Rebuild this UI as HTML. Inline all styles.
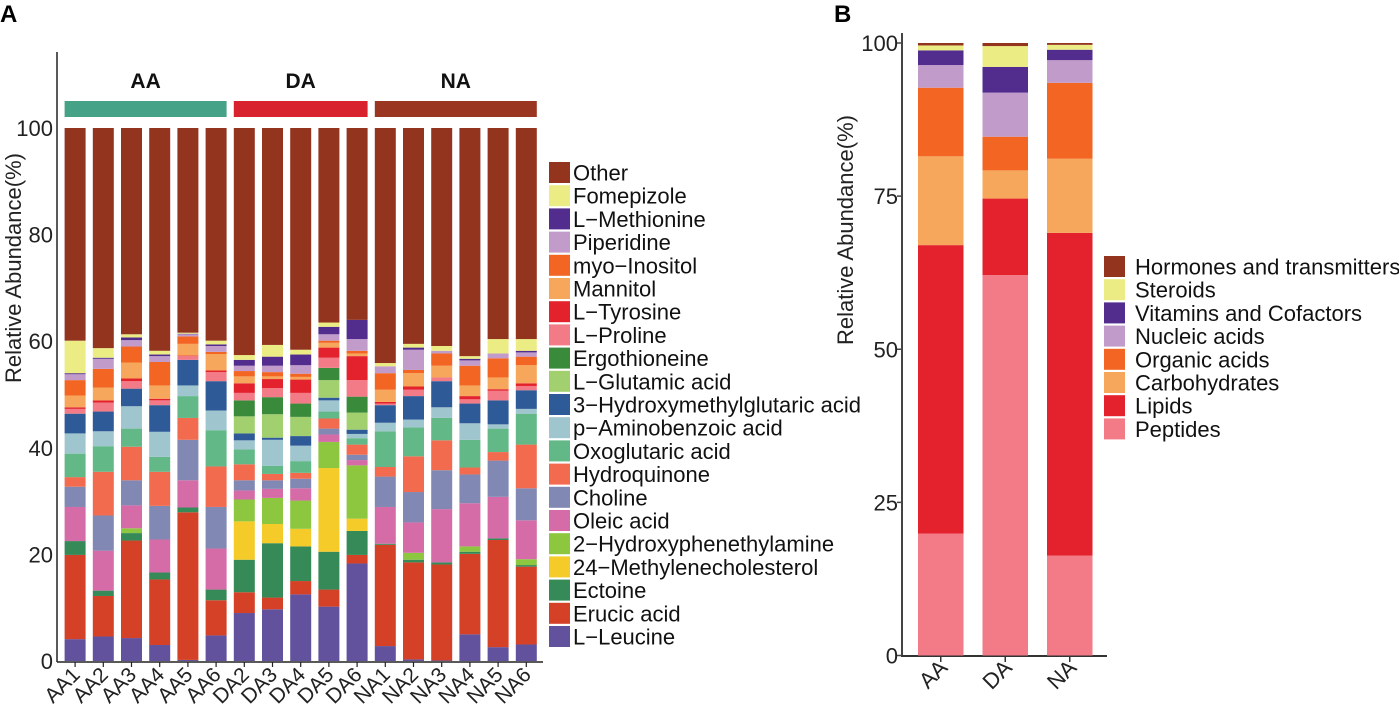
<!DOCTYPE html>
<html><head><meta charset="utf-8"><style>
html,body{margin:0;padding:0;background:#fff;}
svg{display:block;font-family:"Liberation Sans",Arial,sans-serif;}
</style></head><body>
<svg id="chart" width="1399" height="706" viewBox="0 0 1399 706" xmlns="http://www.w3.org/2000/svg">
<text x="0" y="22" font-size="24" font-weight="bold">A</text>
<text x="834" y="22" font-size="24" font-weight="bold">B</text>
<g id="ga"></g>
<g id="gb"></g>
</svg>
<script>
// ---------- Panel A data ----------
const samples = ["AA1","AA2","AA3","AA4","AA5","AA6","DA2","DA3","DA4","DA5","DA6","NA1","NA2","NA3","NA4","NA5","NA6"];
const groups = ["AA","DA","NA"];
const groupSizes = [6,5,6];
const compounds = ["L−Leucine","Erucic acid","Ectoine","24−Methylenecholesterol","2−Hydroxyphenethylamine","Oleic acid","Choline","Hydroquinone","Oxoglutaric acid","p−Aminobenzoic acid","3−Hydroxymethylglutaric acid","L−Glutamic acid","Ergothioneine","L−Proline","L−Tyrosine","Mannitol","myo−Inositol","Piperidine","L−Methionine","Fomepizole","Other"];
const leucine = [4.1,4.6,4.3,3.0,0.2,4.8,9.0,9.7,12.5,10.2,18.3,2.8,0.3,0.1,5.0,2.6,3.1];
const erucic = [15.8,7.6,18.3,12.3,27.7,6.6,3.9,2.2,2.5,3.2,1.6,19.0,18.2,18.0,15.1,20.1,14.6];
const ectoine = [2.6,1.0,1.4,1.3,0.9,2.0,6.1,10.2,6.5,7.1,4.5,0.2,0.5,0.4,0.4,0.3,0.3];
const methylchol = [0,0,0,0,0,0,7.2,3.6,3.3,15.7,2.3,0,0,0,0,0,0];
const hydroxyphen = [0,0,0.9,0,0,0,4.1,4.9,5.3,4.9,10.0,0,1.3,0,1.0,0,1.1];
const oleic = [6.4,7.5,4.3,6.2,5.1,7.7,1.7,1.7,2.3,1.4,1.0,6.9,5.7,10.0,8.1,7.8,7.3];
const choline = [3.8,6.6,4.7,6.3,7.6,7.8,1.9,1.6,1.8,1.1,1.0,5.7,5.7,7.3,5.4,6.8,6.0];
const hydroquinone = [1.8,8.2,6.3,6.4,4.1,7.6,3.0,1.2,1.1,1.9,1.9,1.8,6.7,5.6,1.3,1.6,8.2];
const oxoglutaric = [4.4,4.8,3.4,2.8,4.1,6.8,2.8,1.5,2.2,1.3,1.2,6.7,5.4,4.2,5.2,4.4,5.8];
const aminobenzoic = [3.8,2.8,4.2,4.7,2.0,3.7,1.7,4.9,2.9,2.1,0.8,1.6,1.5,2.0,3.1,0.8,0.9];
const hmg = [3.7,3.7,3.3,5.0,4.8,5.5,1.3,0.4,1.8,0.5,0.8,3.3,4.4,4.9,3.7,4.5,3.5];
const glutamic = [0,0,0,0,0,0,3.2,4.4,3.6,3.3,3.2,0,0,0,0,0,0];
const ergothioneine = [0,0,0,0,0,0,3.0,3.2,2.5,2.3,3.0,0,0,0,0,0,0];
const proline = [0.9,1.7,1.4,0.9,0.7,1.7,1.4,1.7,2.0,1.9,3.1,0.3,1.2,0.7,0.8,1.8,0.8];
const tyrosine = [0.3,0.4,0.5,0.3,0.1,0.3,1.8,1.7,2.5,1.9,4.5,0.3,0.6,0,0.6,0.3,0.5];
const mannitol = [2.2,2.4,3.0,2.5,2.2,3.1,1.3,0.5,0.5,0.9,0.5,2.3,2.5,2.2,2.0,2.2,3.4];
const inositol = [2.9,3.5,3.0,4.4,1.4,0.4,1.0,0.8,0.6,0.4,0.5,3.1,0.6,2.3,3.7,3.6,1.6];
const piperidine = [1.1,1.9,1.2,1.1,0.4,1.1,1.0,1.2,1.6,1.2,2.2,1.3,3.8,0.5,1.0,0.9,0.8];
const methionine = [0.2,0.2,0.5,0.3,0.1,0.3,1.1,1.7,2.0,1.4,3.6,0,0.4,0,0.3,0,0.3];
const fomepizole = [6.1,1.8,0.6,0.7,0.2,0.7,0.9,2.2,0.9,0.8,0,0.6,0.7,0.9,0.5,2.7,2.2];
const other = [39.9,41.3,38.7,41.8,38.4,39.9,42.6,40.7,41.6,36.5,36.0,44.1,40.5,40.9,42.8,39.6,39.6];
const tickA = [0,20,40,60,80,100];
// ---------- Panel B data ----------
const groupsB = ["AA","DA","NA"];
const classesB = ["Peptides","Lipids","Carbohydrates","Organic acids","Nucleic acids","Vitamins and Cofactors","Steroids","Hormones and transmitters"];
const peptides = [19.9,62.1,16.3];
const lipids = [47.1,12.5,52.7];
const carbohydrates = [14.5,4.6,12.1];
const organicAcids = [11.2,5.5,12.4];
const nucleicAcids = [3.7,7.2,3.7];
const vitamins = [2.4,4.2,1.7];
const steroids = [0.8,3.4,0.8];
const hormones = [0.4,0.5,0.3];
const tickB = [0,25,50,75,100];

const NS="http://www.w3.org/2000/svg";
function mk(tag,attrs,parent,txt){const e=document.createElementNS(NS,tag);for(const k in attrs)e.setAttribute(k,attrs[k]);if(txt!==undefined)e.textContent=txt;parent.appendChild(e);return e;}
function slug(s){return s.toLowerCase().replace(/[^a-z0-9]+/g,'-').replace(/^-|-$/g,'');}

// ===== Panel A =====
const ga=document.getElementById('ga');
const seriesA=[leucine,erucic,ectoine,methylchol,hydroxyphen,oleic,choline,hydroquinone,oxoglutaric,aminobenzoic,hmg,glutamic,ergothioneine,proline,tyrosine,mannitol,inositol,piperidine,methionine,fomepizole,other];
const colA=["#62519d","#d44127","#358a58","#f5cb2a","#8dc63f","#d56ca8","#8088b3","#f26b4f","#62b887","#9fc5ce","#2e5b98","#a2d06f","#3a8a3c","#f27b87","#e3222d","#f7a75b","#f26522","#c19ccb","#522d8d","#ecec85","#93341f"];
const yA0=661, yA100=128;
const yA=v=>yA0-(yA0-yA100)*v/100;
const xA0=64.6, pitchA=28.2, bwA=21;
const xA=i=>xA0+i*pitchA;
let e=mk('line',{x1:57,y1:52,x2:57,y2:662,stroke:'#222','stroke-width':1.5},ga);


e=mk('line',{x1:57,y1:662,x2:543,y2:662,stroke:'#222','stroke-width':1.5},ga);


tickA.forEach(t=>{
  const tx=mk('text',{x:53,y:yA(t)+8,'font-size':22,'text-anchor':'end',fill:'#222'},ga,String(t));
  
  
});
e=mk('text',{x:0,y:0,'font-size':22,'text-anchor':'middle',fill:'#222',transform:'translate(21,268) rotate(-90)'},ga,'Relative Abundance(%)');


samples.forEach((s,i)=>{
  let cum=0;
  seriesA.forEach((ser,k)=>{
    const v=ser[i]; if(v<=0){return;}
    const r=mk('rect',{x:xA(i),y:yA(cum+v),width:bwA,height:yA(cum)-yA(cum+v),fill:colA[k]},ga);
    
    
    cum+=v;
  });
  const cx=xA(i)+bwA/2;
  mk('line',{x1:cx,y1:662,x2:cx,y2:667,stroke:'#222','stroke-width':1.2},ga);
  const lb=mk('text',{x:0,y:0,'font-size':21,'text-anchor':'end',fill:'#222',transform:`translate(${cx+6},${676}) rotate(-45)`},ga,s);
  
  
});
const grpCol=["#45a287","#d8222d","#993521"];
let gi=0;
groups.forEach((g,k)=>{
  const x1=xA(gi), x2=xA(gi+groupSizes[k]-1)+bwA;
  const r=mk('rect',{x:x1,y:101,width:x2-x1,height:16,fill:grpCol[k]},ga);
  
  
  const t=mk('text',{x:(x1+x2)/2,y:88,'font-size':21,'font-weight':'bold','text-anchor':'middle',fill:'#111'},ga,g);
  
  
  gi+=groupSizes[k];
});
for(let k=compounds.length-1,row=0;k>=0;k--,row++){
  const y=162+row*23.2;
  const r=mk('rect',{x:549,y:y,width:21,height:21,fill:colA[k]},ga);
  
  
  const t=mk('text',{x:573,y:y+18.5,'font-size':22,fill:'#111'},ga,compounds[k]);
  
  
}

// ===== Panel B =====
const gb=document.getElementById('gb');
const seriesB=[peptides,lipids,carbohydrates,organicAcids,nucleicAcids,vitamins,steroids,hormones];
const colB=["#f27b87","#e3222d","#f7a75b","#f26522","#c19ccb","#522d8d","#ecec85","#93341f"];
const yB0=655.5, yB100=43;
const yB=v=>yB0-(yB0-yB100)*v/100;
const xB0=918, pitchB=64.5, bwB=45.5;
const xB=i=>xB0+i*pitchB;
e=mk('line',{x1:902,y1:33,x2:902,y2:656,stroke:'#444','stroke-width':2},gb);


e=mk('line',{x1:901,y1:656,x2:1107,y2:656,stroke:'#333','stroke-width':2},gb);


tickB.forEach(t=>{
  mk('line',{x1:897,y1:yB(t),x2:902,y2:yB(t),stroke:'#444','stroke-width':1.5},gb);
  const tx=mk('text',{x:898,y:yB(t)+8,'font-size':22,'text-anchor':'end',fill:'#222'},gb,String(t));
  
  
});
e=mk('text',{x:0,y:0,'font-size':22,'text-anchor':'middle',fill:'#222',transform:'translate(853,230) rotate(-90)'},gb,'Relative Abundance(%)');


groupsB.forEach((g,i)=>{
  let cum=0;
  seriesB.forEach((ser,k)=>{
    const v=ser[i]; if(v<=0)return;
    const r=mk('rect',{x:xB(i),y:yB(cum+v),width:bwB,height:yB(cum)-yB(cum+v),fill:colB[k]},gb);
    
    
    cum+=v;
  });
  const cx=xB(i)+bwB/2;
  mk('line',{x1:cx,y1:656,x2:cx,y2:662,stroke:'#333','stroke-width':1.5},gb);
  const lb=mk('text',{x:0,y:0,'font-size':22,'text-anchor':'end',fill:'#222',transform:`translate(${cx+8},${669}) rotate(-45)`},gb,g);
  
  
});
for(let k=classesB.length-1,row=0;k>=0;k--,row++){
  const y=256+row*23.2;
  const r=mk('rect',{x:1104,y:y,width:21,height:21,fill:colB[k]},gb);
  
  
  const t=mk('text',{x:1135,y:y+18.5,'font-size':22,fill:'#111'},gb,classesB[k]);
  
  
}
</script>
</body></html>
